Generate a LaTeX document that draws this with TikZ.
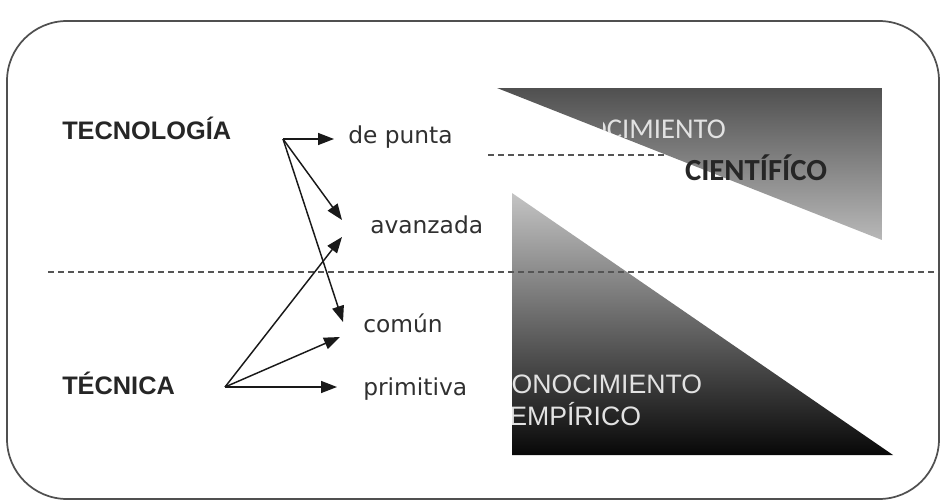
\documentclass[tikz,border=0pt]{standalone}
\usepackage{fontspec}
\setmainfont{Liberation Sans}
\newfontfamily\labfont{DejaVu Sans}
\newfontfamily\calfont{Carlito}
\usetikzlibrary{arrows.meta}
\definecolor{framecol}{HTML}{505050}
\definecolor{dashcol}{HTML}{555555}
\definecolor{uptop}{HTML}{505050}
\definecolor{upbot}{HTML}{B8B8B8}
\definecolor{lowtop}{HTML}{C4C4C4}
\definecolor{lowbot}{HTML}{080808}
\definecolor{labcol}{HTML}{303030}
\definecolor{lighttxt}{HTML}{E2E2E2}
\tikzset{
  frame/.style={draw=framecol, line width=1.3pt, rounded corners=45pt},
  divider/.style={draw=dashcol, line width=1.8pt, dash pattern=on 4.5pt off 3pt},
  head/.style={font=\bfseries\fontsize{19}{22}\selectfont, text=black!85, inner sep=0pt, anchor=mid west},
  lab/.style={font=\labfont\fontsize{17.5}{21}\selectfont, text=labcol, inner sep=0pt, anchor=mid west},
  conn/.style={draw=black!90, line width=1.1pt, -{Triangle[length=12pt,width=9pt]}},
  lightcap/.style={font=\fontsize{20}{24}\selectfont, text=lighttxt, inner sep=0pt, anchor=mid west},
}
\begin{document}
\begin{tikzpicture}[x=0.75pt,y=-0.75pt]
\useasboundingbox (0,0) rectangle (945,503);
% outer frame
\path[frame] (7,21) rectangle (939,499);
% upper dashed segment
\draw[divider] (488,155) -- (664,155);
% upper triangle
\shade[top color=uptop, bottom color=upbot] (497,88) -- (882,88) -- (882,240) -- cycle;
\begin{scope}
  \clip (497,88) -- (882,88) -- (882,240) -- cycle;
  \clip (603,80) rectangle (890,250);
  \node[font=\calfont\fontsize{21.5}{26}\selectfont, text=lighttxt, inner sep=0pt, anchor=mid east] (conoc) at (726,135) {CONOCIMIENTO};
\end{scope}
\node[font=\calfont\bfseries\fontsize{23}{27}\selectfont, text=black!85, inner sep=0pt] (cient) at (756,168) {CIENTÍFÍCO};
% lower triangle
\shade[top color=lowtop, bottom color=lowbot] (512,193) -- (512,455) -- (893,455) -- cycle;
\begin{scope}
  \clip (512,193) -- (512,455) -- (893,455) -- cycle;
  \node[lightcap] (conoc2) at (492,390) {CONOCIMIENTO};
  \node[lightcap] (empir) at (509,422) {EMPÍRICO};
\end{scope}
% main dashed line
\draw[divider] (48,272) -- (939,272);
% headings
\node[head] (tecno) at (62,136) {TECNOLOGÍA};
\node[head] (tecn) at (62,391) {TÉCNICA};
% labels
\node[lab] (depunta) at (348,140) {de punta};
\node[lab] (avanz) at (370,230) {avanzada};
\node[lab] (comun) at (363,329) {común};
\node[lab] (prim) at (363,392) {primitiva};
% arrow origins and ends
\coordinate (oT) at (283,139);
\coordinate (oC) at (225,387);
\coordinate (tDp) at (334,139);
\coordinate (tAv1) at (342,220);
\coordinate (tCo1) at (343,322);
\coordinate (tAv2) at (342,237);
\coordinate (tCo2) at (340,337);
\coordinate (tPr) at (337,387);
\draw[conn] (oT) -- (tDp);
\draw[conn] (oT) -- (tAv1);
\draw[conn] (oT) -- (tCo1);
\draw[conn] (oC) -- (tAv2);
\draw[conn] (oC) -- (tCo2);
\draw[conn] (oC) -- (tPr);
\end{tikzpicture}
\end{document}
